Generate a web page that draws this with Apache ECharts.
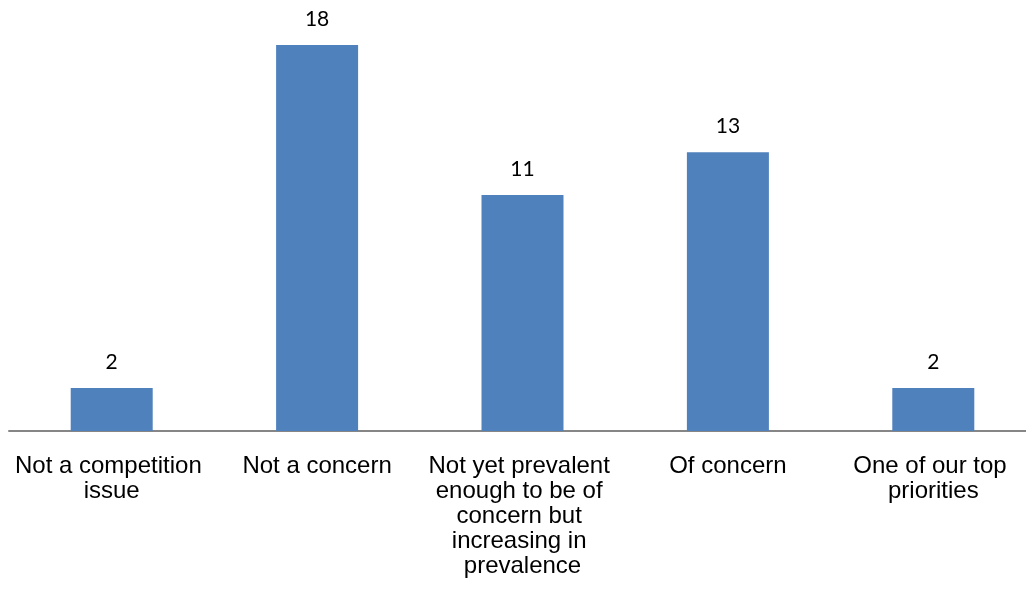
<!DOCTYPE html>
<html>
<head>
<meta charset="utf-8">
<script src="https://cdn.jsdelivr.net/npm/echarts@6/dist/echarts.min.js"></script>
<style>
  html, body { margin: 0; padding: 0; background: #fff; overflow: hidden; }
  #chart { width: 1040px; height: 590px; }
</style>
</head>
<body>
<div id="chart"></div>
<script>
// Survey responses: how the issue is regarded
const categories = [
  'Not a competition issue',
  'Not a concern',
  'Not yet prevalent enough to be of concern but increasing in prevalence',
  'Of concern',
  'One of our top priorities'
];
const responses = [2, 18, 11, 13, 2];

const chart = echarts.init(document.getElementById('chart'), null, { renderer: 'canvas' });
chart.setOption({
  animation: false,
  grid: { left: 9, top: 2, width: 1027, height: 429, containLabel: false },
  xAxis: {
    type: 'category',
    data: categories,
    axisLine: { show: true, lineStyle: { color: '#868686', width: 2 } },
    axisTick: { show: false },
    axisLabel: {
      interval: 0,
      margin: 23,
      color: '#000',
      fontFamily: 'Liberation Sans, Arial, sans-serif',
      fontSize: 24,
      lineHeight: 25,
      width: 202,
      overflow: 'break',
      align: 'center'
    }
  },
  yAxis: {
    type: 'value',
    min: 0,
    max: 20,
    show: false
  },
  series: [{
    type: 'bar',
    data: responses,
    barWidth: 82,
    itemStyle: { color: '#4F81BD' },
    label: {
      show: true,
      position: 'top',
      distance: 15,
      color: '#000',
      fontFamily: 'Lato, Open Sans, sans-serif',
      fontSize: 21
    }
  }]
});
</script>
</body>
</html>
